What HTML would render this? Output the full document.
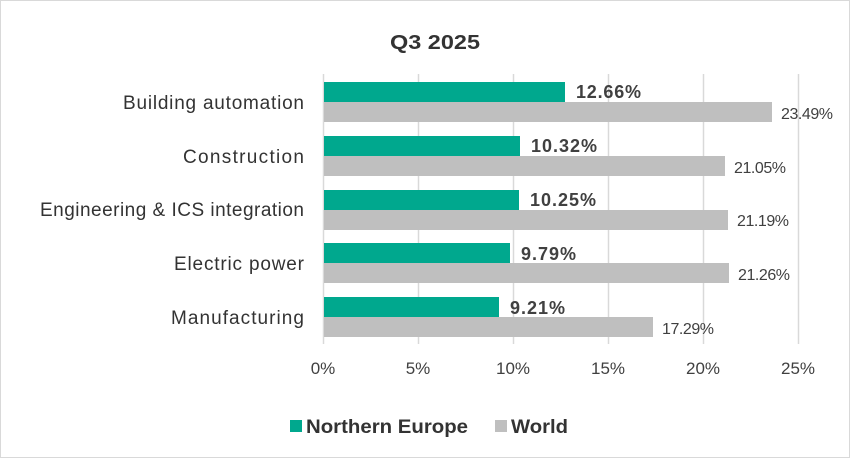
<!DOCTYPE html>
<html><head><style>
body{margin:0;background:#fff}
</style></head><body>
<svg width="850" height="458" xmlns="http://www.w3.org/2000/svg" font-family="Liberation Sans, sans-serif">
<rect x="0.5" y="0.5" width="849" height="457" fill="#fff" stroke="#d9d9d9"/>
<text x="390" y="49" font-size="20" font-weight="bold" fill="#333" textLength="90" lengthAdjust="spacingAndGlyphs">Q3 2025</text>
<g stroke="#d9d9d9" stroke-width="1.5">
<line x1="323.5" y1="74" x2="323.5" y2="344"/><line x1="418.5" y1="74" x2="418.5" y2="344"/>
<line x1="513.5" y1="74" x2="513.5" y2="344"/><line x1="608.5" y1="74" x2="608.5" y2="344"/>
<line x1="703.5" y1="74" x2="703.5" y2="344"/><line x1="798.5" y1="74" x2="798.5" y2="344"/>
</g>
<g fill="#00A88E">
<rect x="324" y="82" width="241" height="20"/><rect x="324" y="136" width="196" height="20"/>
<rect x="324" y="190" width="195" height="20"/><rect x="324" y="243" width="186" height="20"/>
<rect x="324" y="297" width="175" height="20"/>
</g>
<g fill="#bfbfbf">
<rect x="324" y="102" width="448" height="20"/><rect x="324" y="156" width="401" height="20"/>
<rect x="324" y="210" width="404" height="20"/><rect x="324" y="263" width="405" height="20"/>
<rect x="324" y="317" width="329" height="20"/>
</g>
<g font-size="18" font-weight="bold" fill="#404040" lengthAdjust="spacingAndGlyphs">
<text x="576" y="98" textLength="65">12.66%</text><text x="531" y="152" textLength="66">10.32%</text>
<text x="530" y="206" textLength="66">10.25%</text><text x="521" y="260" textLength="55">9.79%</text><text x="510" y="314" textLength="55">9.21%</text>
</g>
<g font-size="16" fill="#404040" lengthAdjust="spacingAndGlyphs">
<text x="781" y="119" textLength="52">23.49%</text><text x="734" y="173" textLength="52">21.05%</text>
<text x="737" y="226" textLength="52">21.19%</text><text x="738" y="280" textLength="52">21.26%</text><text x="662" y="334" textLength="52">17.29%</text>
</g>
<g font-size="19" fill="#333" lengthAdjust="spacingAndGlyphs">
<text x="123" y="109" textLength="181">Building automation</text>
<text x="183" y="163" textLength="121">Construction</text>
<text x="40" y="216" textLength="264">Engineering &amp; ICS integration</text>
<text x="174" y="270" textLength="130">Electric power</text>
<text x="171" y="324" textLength="133">Manufacturing</text>
</g>
<g font-size="17" fill="#404040" text-anchor="middle">
<text x="323" y="374">0%</text><text x="418" y="374">5%</text><text x="513" y="374">10%</text>
<text x="608" y="374">15%</text><text x="703" y="374">20%</text><text x="798" y="374">25%</text>
</g>
<rect x="290" y="420" width="12" height="12" fill="#00A88E"/>
<text x="306" y="433" font-size="19" font-weight="bold" fill="#333" textLength="162" lengthAdjust="spacingAndGlyphs">Northern Europe</text>
<rect x="495" y="420" width="12" height="12" fill="#bfbfbf"/>
<text x="511" y="433" font-size="19" font-weight="bold" fill="#333" textLength="57" lengthAdjust="spacingAndGlyphs">World</text>
</svg>
</body></html>
